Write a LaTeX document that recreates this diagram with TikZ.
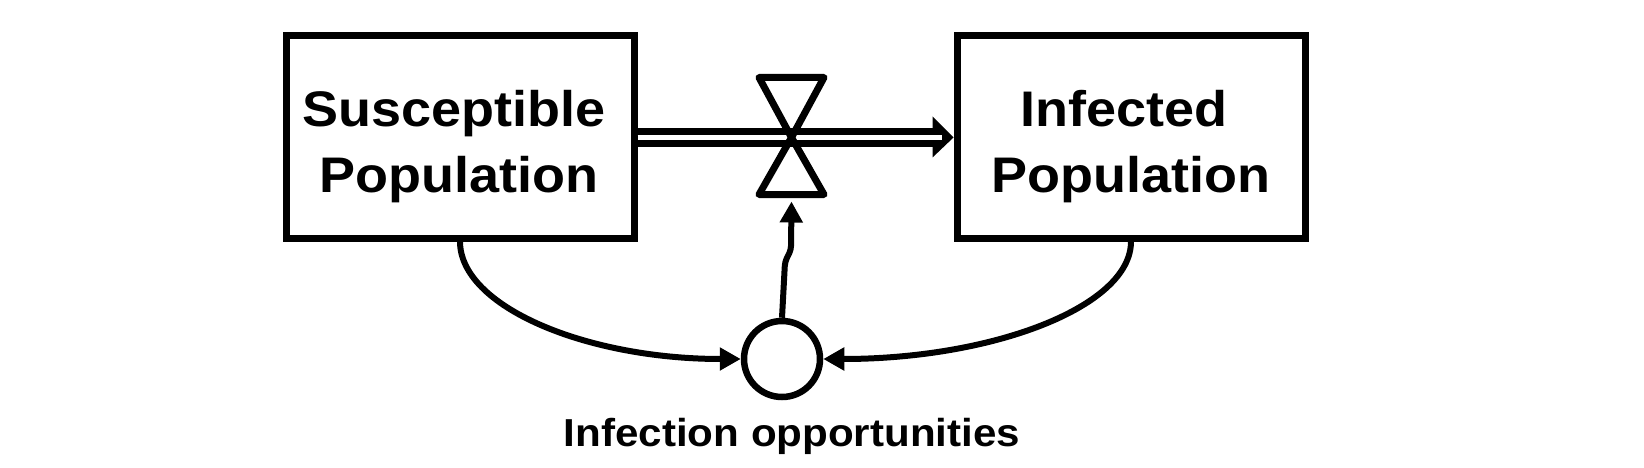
\documentclass[tikz,border=0pt]{standalone}
\usepackage{fontspec}
\setmainfont{Liberation Sans}[FakeStretch=1.08]
\usetikzlibrary{arrows.meta,calc}
\begin{document}
\begin{tikzpicture}[x=1pt,y=-1pt,
  stock/.style={draw, line width=7pt, minimum width=348pt, minimum height=202pt, inner sep=0pt},
  aux/.style={draw, circle, line width=6.5pt, minimum size=76pt, inner sep=0pt},
  bigtext/.style={font=\bfseries\fontsize{50}{60}\selectfont, inner sep=0pt, anchor=base},
  smalltext/.style={font=\bfseries\fontsize{39}{47}\selectfont, inner sep=0pt, anchor=base},
  link/.style={line width=6pt, -{Triangle[length=21pt,width=22pt]}},
  valvestyle/.style={line width=7pt, line join=round},
  flow/.style={line width=7pt, double=white, double distance=5pt},
  ]
\useasboundingbox[fill=white] (0,0) rectangle (1644,468);

% stocks
\node[stock] (S) at (460,137) {};
\node[stock] (I) at (1131,137) {};
\node[bigtext] (S1) at (454,127) {Susceptible};
\node[bigtext] (S2) at (459,192) {Population};
\node[bigtext] (I1) at (1124,127) {Infected};
\node[bigtext] (I2) at (1131,192) {Population};

% auxiliary
\node[aux] (C) at (782,359) {};
\node[smalltext] (CL) at (792,446) {Infection opportunities};

% flow
\coordinate (V) at (791.5,137.5);
\coordinate (Vb) at ($(V)+(0,64)$);
\fill ($(I.west)+(-21,-20.5)$) -- (I.west |- V) -- ($(I.west)+(-21,20.5)$) -- cycle;
\draw[flow] (S.east |- V) -- ($(I.west |- V)+(-12,0)$);

% valve
\draw[valvestyle] (V) -- ($(V)+(-32.5,-60)$) -- ($(V)+(32.5,-60)$) -- cycle;
\draw[valvestyle] (V) -- ($(V)+(-32.5,57)$) -- ($(V)+(32.5,57)$) -- cycle;

% links
\draw[link, rounded corners=4pt] (C.north) -- ++(3,-56) -- ++(6,-12) -- (Vb);
\draw[link] (S.south) .. controls ($(S.south)+(0,65)$) and ($(C.west)+(-155,0)$) .. (C.west);
\draw[link] (I.south) .. controls ($(I.south)+(0,65)$) and ($(C.east)+(170,0)$) .. (C.east);
\end{tikzpicture}
\end{document}
